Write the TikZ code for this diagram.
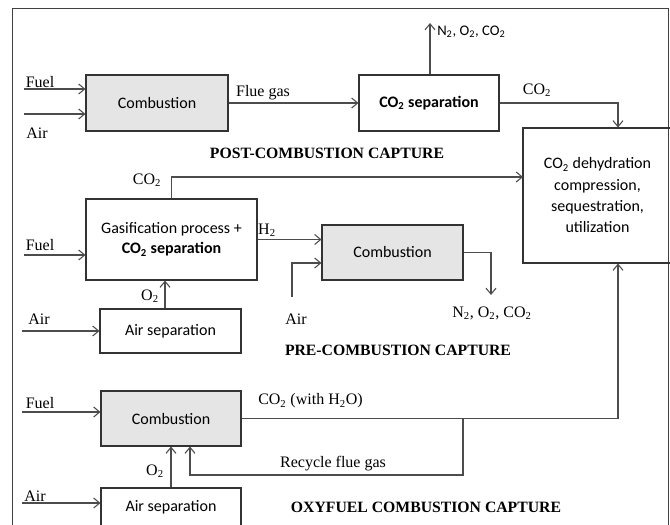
\documentclass[tikz,border=0pt]{standalone}
\usepackage{fontspec}
\setmainfont{Liberation Serif}
\newfontfamily\boxfont{Carlito}
\usetikzlibrary{arrows.meta}

\tikzset{
  unit/.style={draw=black!80,line width=0.8pt,minimum width={#1*0.75pt},inner sep=1pt,
    font=\boxfont\fontsize{12}{15}\selectfont,align=center},
  burner/.style={unit=#1,fill=black!10},
  tall/.style={minimum height={#1*0.75pt}},
  flow/.style={draw=black!70,line width=0.8pt,-{Straight Barb[length=4.5pt,width=7.5pt]}},
  lbl/.style={font=\fontsize{12}{14}\selectfont,inner sep=0pt},
  capt/.style={font=\bfseries\fontsize{11.8}{14}\selectfont,inner sep=0pt}
}
\newcommand{\sub}[1]{\textsubscript{#1}}

\begin{document}
\begin{tikzpicture}[x=0.75pt,y=-0.75pt]
\useasboundingbox (0,0) rectangle (670,524);
% frame
\draw[black!75,line width=0.7pt] (12,530) -- (12,8) -- (668,8) -- (668,530);

% post-combustion
\node[burner=142,tall=56] (postcomb) at (157,103) {Combustion};
\node[unit=140,tall=56] (postsep) at (429,103) {\textbf{CO\sub{2} separation}};
\node[unit=149,tall=135,font=\boxfont\fontsize{12}{16}\selectfont] (dehyd) at (597.5,195.5)
  {CO\sub{2} dehydration\\compression,\\sequestration,\\utilization};

\coordinate (fuelA) at (24,89);
\coordinate (airA) at (24,114);
\coordinate (ventA) at (430,23);
\coordinate (inA) at (618,0);
\draw[flow] (fuelA) -- (fuelA -| postcomb.west);
\draw[flow] (airA) -- (airA -| postcomb.west);
\draw[flow] (postcomb.east) -- (postsep.west);
\draw[flow] (postsep.north -| ventA) -- (ventA);
\draw[flow] (postsep.east) -| (inA |- dehyd.north);

\node[lbl] at (40,82) {Fuel};
\node[lbl] at (37,133) {Air};
\node[lbl] at (263,93) {Flue gas};
\node[lbl,font=\boxfont\fontsize{11}{13}\selectfont,anchor=west] at (437,32) {N\sub{2}, O\sub{2}, CO\sub{2}};
\node[lbl] at (537,90) {CO\sub{2}};
\node[capt] at (327,153) {POST-COMBUSTION CAPTURE};

% pre-combustion
\node[unit=171,tall=81] (gasif) at (171.5,239.5) {Gasification process +\\\textbf{CO\sub{2} separation}};
\node[unit=141,tall=44] (preair) at (170.5,331) {Air separation};
\node[burner=141,tall=55] (precomb) at (392.5,252.5) {Combustion};

\coordinate (fuelB) at (24,255);
\coordinate (airB) at (22,331);
\coordinate (airC) at (292,297);
\coordinate (inB) at (523,177);
\coordinate (ventB) at (491,295);
\coordinate (oxA) at (165,0);
\draw[flow] (gasif.north) |- (inB);
\draw[flow] (fuelB) -- (fuelB -| gasif.west);
\draw[flow] (airB) -- (preair.west);
\draw[flow] (oxA |- preair.north) -- (oxA |- gasif.south);
\draw[flow] (gasif.east) -- (gasif.east -| precomb.west);
\draw[flow] (airC) |- (precomb.west |- 0,263);
\draw[flow] (precomb.east) -| (ventB);

\node[lbl] at (147,180) {CO\sub{2}};
\node[lbl] at (40,245) {Fuel};
\node[lbl] at (267,230) {H\sub{2}};
\node[lbl] at (150,296) {O\sub{2}};
\node[lbl] at (39,319) {Air};
\node[lbl] at (296,319) {Air};
\node[lbl] at (492,313) {N\sub{2}, O\sub{2}, CO\sub{2}};
\node[capt] at (398,350) {PRE-COMBUSTION CAPTURE};

% oxyfuel
\node[burner=140,tall=55] (oxycomb) at (171,418.5) {Combustion};
\node[unit=140,tall=38] (oxyair) at (171,507) {Air separation};

\coordinate (fuelC) at (22,412);
\coordinate (airD) at (22,503);
\coordinate (split) at (463,0);
\coordinate (recyc) at (190,475);
\draw[flow] (fuelC) -- (fuelC -| oxycomb.west);
\draw[flow] (airD) -- (airD -| oxyair.west);
\draw[flow] (oxyair.north) -- (oxycomb.south);
\draw[flow] (oxycomb.east) -| (inA |- dehyd.south);
\draw[flow] (split |- oxycomb.east) |- (recyc) -- (recyc |- oxycomb.south);

\node[lbl] at (40,403) {Fuel};
\node[lbl,anchor=west] at (258,401) {CO\sub{2} (with H\sub{2}O)};
\node[lbl] at (333,464) {Recycle flue gas};
\node[lbl] at (155,471) {O\sub{2}};
\node[lbl] at (35,496) {Air};
\node[capt] at (426,507) {OXYFUEL COMBUSTION CAPTURE};
\end{tikzpicture}
\end{document}
